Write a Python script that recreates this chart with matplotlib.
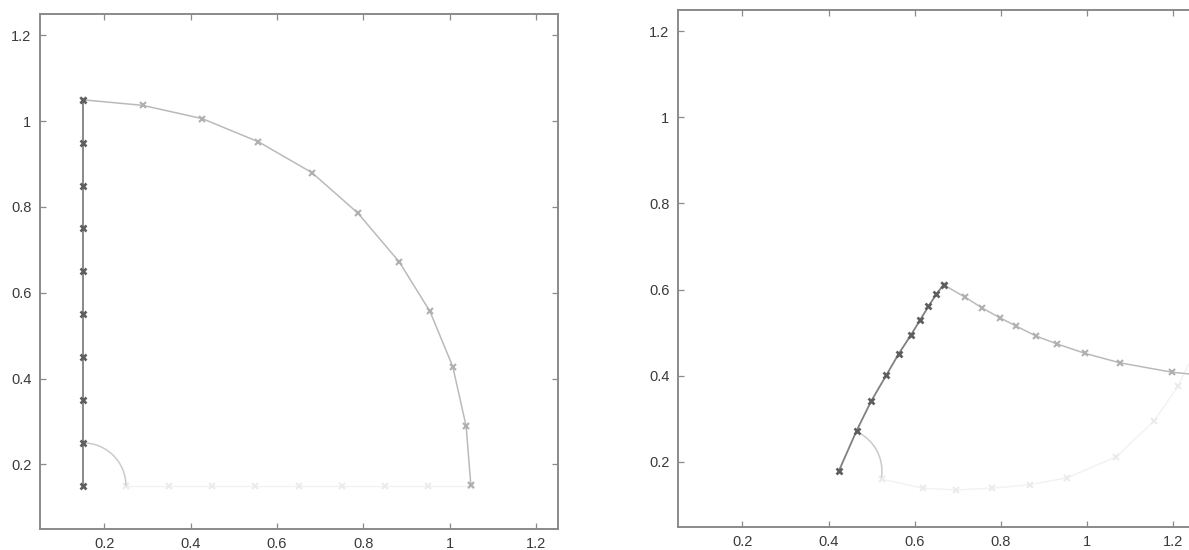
import matplotlib
matplotlib.use("Agg")
import matplotlib.pyplot as plt
from matplotlib.patches import Arc

# ---------------- data ----------------
ticks = [0.2, 0.4, 0.6, 0.8, 1.0, 1.2]
tick_labels = ["0.2", "0.4", "0.6", "0.8", "1", "1.2"]
lims = (0.05, 1.25)

# left panel
left_link_x = [0.15, 0.15, 0.15, 0.15, 0.15, 0.15, 0.15, 0.15, 0.15, 0.15]
left_link_y = [0.15, 0.25, 0.35, 0.45, 0.55, 0.65, 0.75, 0.85, 0.95, 1.05]
left_arc_x = [0.15, 0.289, 0.427, 0.557, 0.681, 0.787, 0.883, 0.954, 1.007, 1.038, 1.049]
left_arc_y = [1.05, 1.037, 1.006, 0.952, 0.880, 0.786, 0.672, 0.557, 0.428, 0.289, 0.151]
left_base_x = [1.05, 0.95, 0.85, 0.75, 0.65, 0.55, 0.45, 0.35, 0.25]
left_base_y = [0.15, 0.15, 0.15, 0.15, 0.15, 0.15, 0.15, 0.15, 0.15]
left_angle_center = (0.15, 0.15)
left_angle_radius = 0.1
left_angle_span = (0.0, 90.0)

# right panel
right_link_x = [0.424, 0.465, 0.499, 0.534, 0.563, 0.591, 0.613, 0.632, 0.650, 0.667]
right_link_y = [0.179, 0.272, 0.341, 0.401, 0.451, 0.494, 0.530, 0.561, 0.589, 0.611]
right_arc_x = [0.667, 0.716, 0.757, 0.797, 0.836, 0.882, 0.930, 0.995, 1.076, 1.198, 1.30]
right_arc_y = [0.611, 0.583, 0.557, 0.535, 0.515, 0.492, 0.474, 0.452, 0.430, 0.408, 0.398]
right_base_x = [1.235, 1.211, 1.155, 1.068, 0.954, 0.867, 0.780, 0.697, 0.619, 0.523]
right_base_y = [0.425, 0.375, 0.294, 0.212, 0.163, 0.147, 0.139, 0.135, 0.139, 0.160]
right_angle_center = (0.424, 0.179)
right_angle_radius = 0.1
right_angle_span = (-9.0, 66.0)

# ---------------- styling ----------------
plt.rcParams['font.family'] = ['Liberation Sans', 'DejaVu Sans']
link_col, link_mk = "#808080", "#5e5e5e"
arc_col, arc_mk = "#bababa", "#b0b0b0"
base_col, base_mk = "#f2f2f2", "#ebebeb"
angle_col = "#cacaca"
spine_col = "#8a8a8a"
text_col = "#3a3a3a"

fig = plt.figure(figsize=(11.89, 5.5), dpi=100)
fig.patch.set_facecolor("white")

ax_l = fig.add_axes([0.0333, 0.0389, 0.4357, 0.9356])
ax_r = fig.add_axes([0.5700, 0.0427, 0.4348, 0.9400])


def style(ax):
    ax.set_xlim(*lims)
    ax.set_ylim(*lims)
    ax.set_xticks(ticks)
    ax.set_yticks(ticks)
    ax.set_xticklabels(tick_labels)
    ax.set_yticklabels(tick_labels)
    ax.tick_params(direction="in", length=4, width=0.9, colors=spine_col,
                   labelcolor=text_col, labelsize=10.5, top=True, right=True,
                   pad=6)
    for s in ax.spines.values():
        s.set_color(spine_col)
        s.set_linewidth(1.4)


def draw(ax, lx, ly, ax_x, ax_y, bx, by, c, r, span, base_marks):
    ax.plot(bx, by, color=base_col, lw=1.0, zorder=1)
    ax.plot(bx, by, ls="none", marker="x", ms=4, mew=1.4, mec=base_mk,
            markevery=base_marks, zorder=1)
    ax.add_patch(Arc(c, 2 * r, 2 * r, theta1=span[0], theta2=span[1],
                     color=angle_col, lw=1.1, zorder=2))
    ax.plot(ax_x, ax_y, color=arc_col, lw=1.1, marker="x", ms=4, mew=1.5,
            mec=arc_mk, zorder=3)
    ax.plot(lx, ly, color=link_col, lw=1.3, marker="x", ms=4.5, mew=1.9,
            mec=link_mk, zorder=4)


draw(ax_l, left_link_x, left_link_y, left_arc_x, left_arc_y,
     left_base_x, left_base_y, left_angle_center, left_angle_radius,
     left_angle_span, slice(0, None))
draw(ax_r, right_link_x, right_link_y, right_arc_x, right_arc_y,
     right_base_x, right_base_y, right_angle_center, right_angle_radius,
     right_angle_span, slice(1, None))

style(ax_l)
style(ax_r)

fig.savefig("out.png", dpi=100, facecolor="white")
